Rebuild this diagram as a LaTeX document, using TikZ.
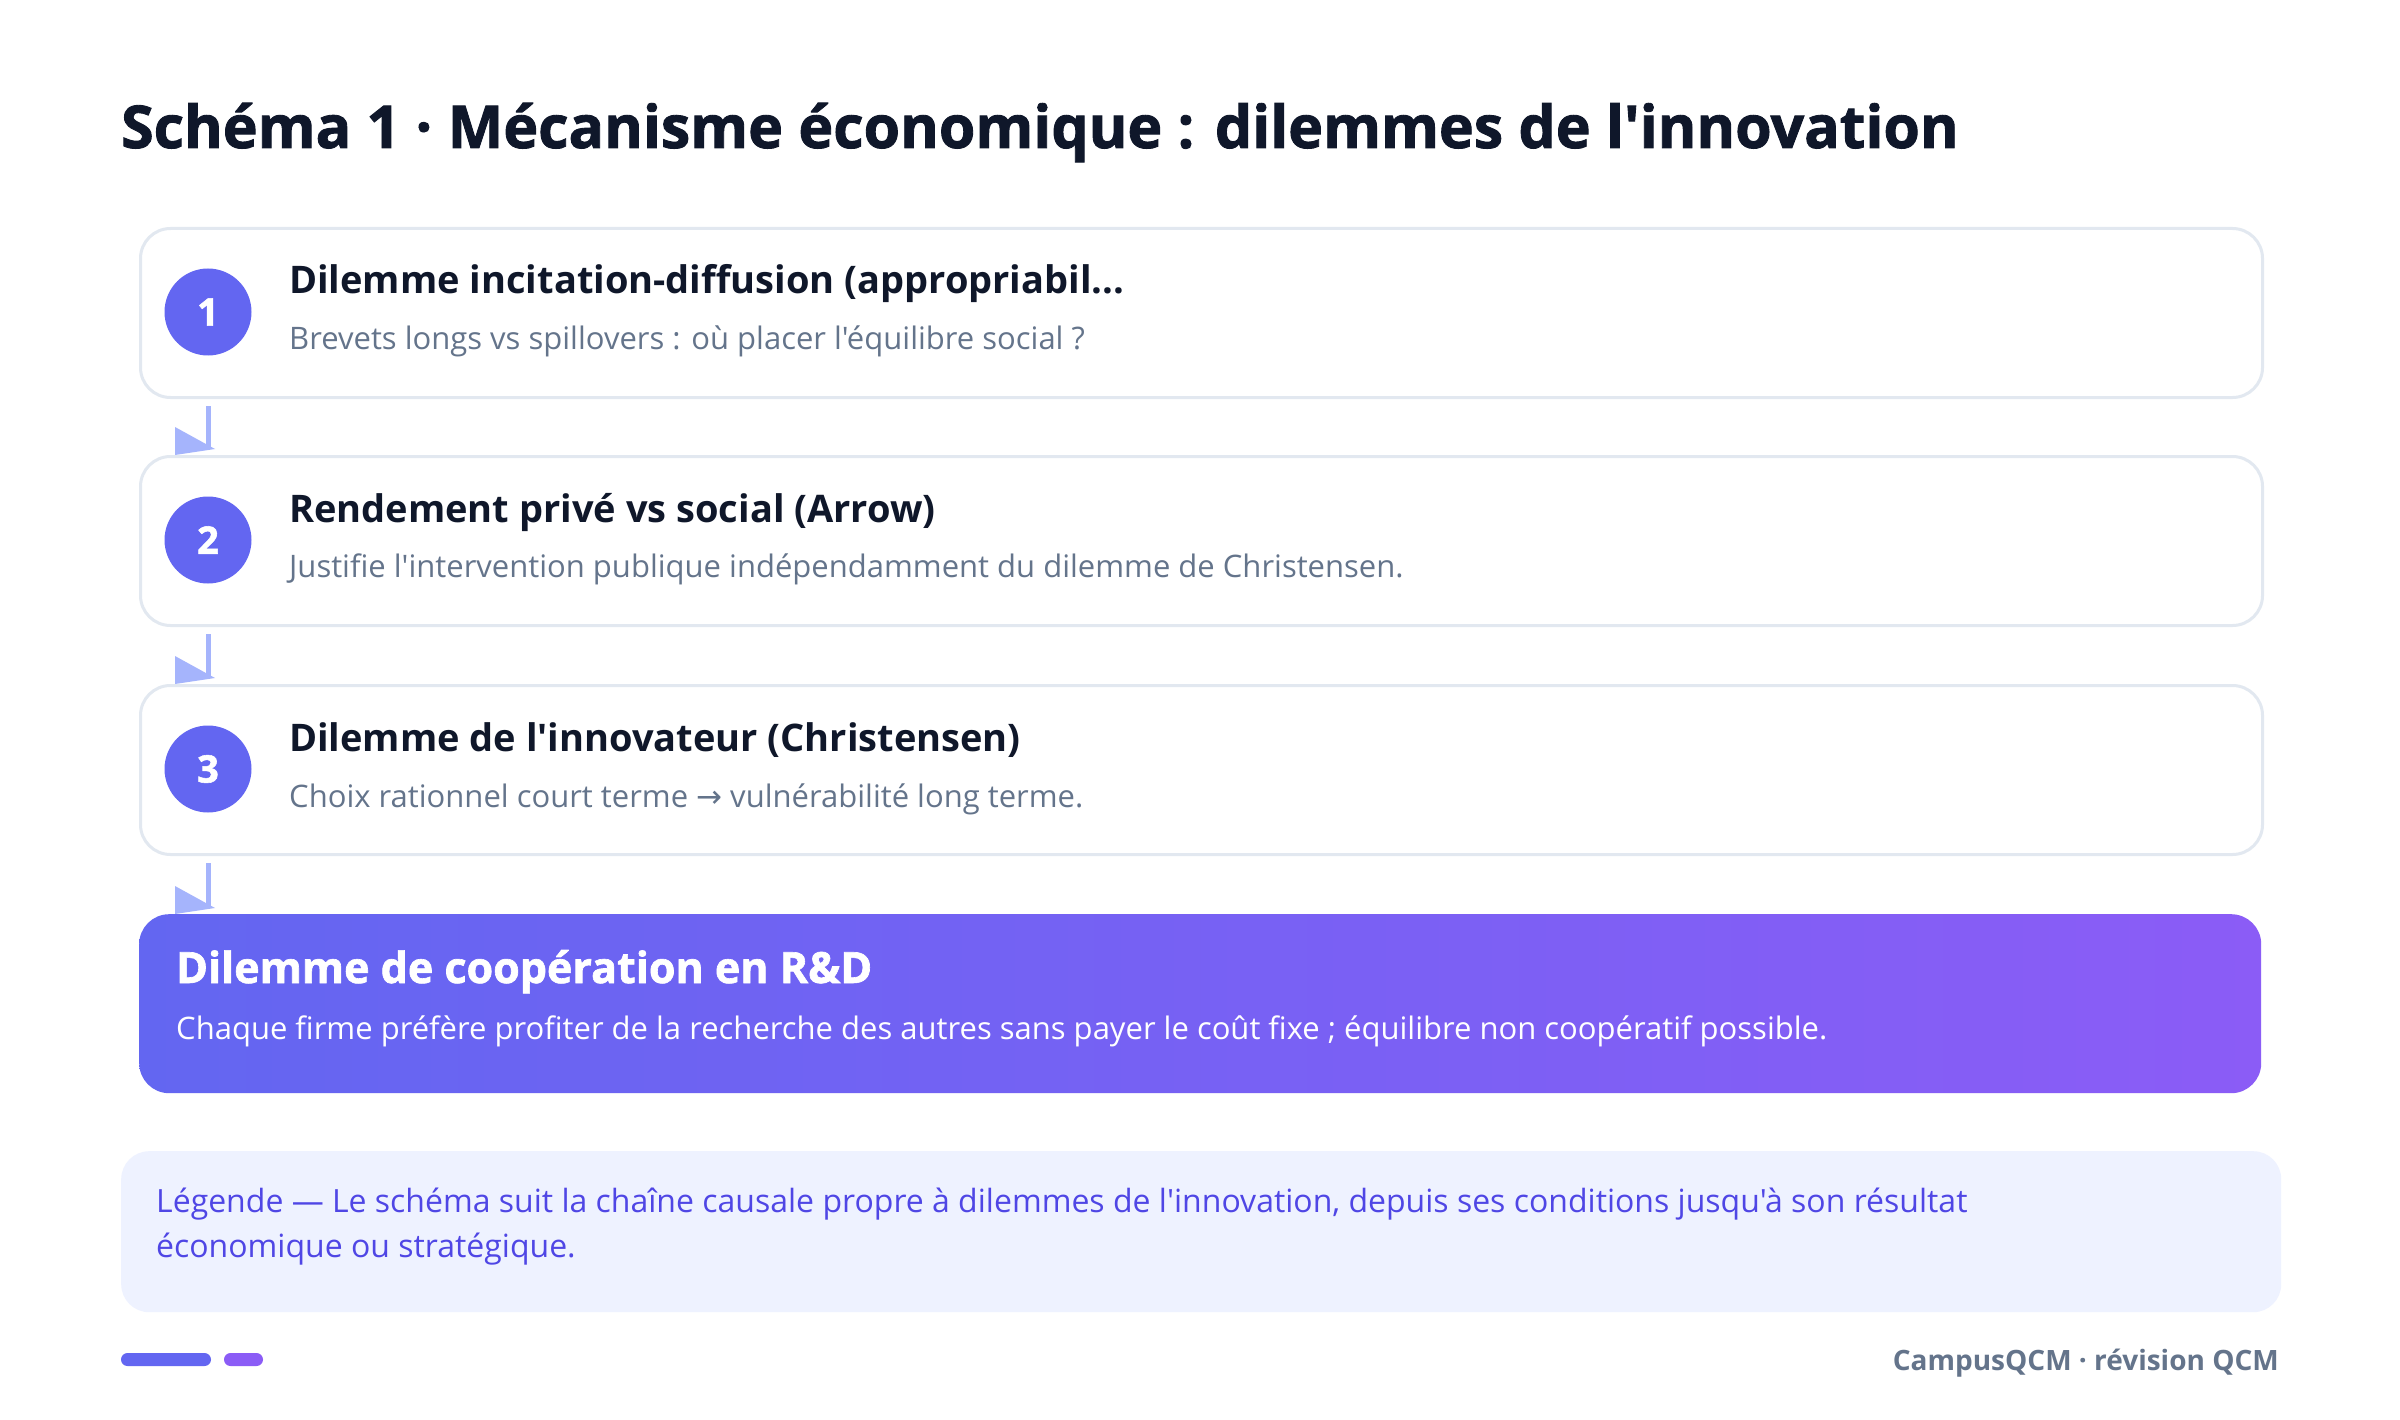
\documentclass[tikz,border=0pt]{standalone}
\usepackage{fontspec}
\setmainfont{Open Sans}[Ligatures=TeXOff]
\newfontfamily\heavy{Open Sans}[Ligatures=TeXOff, BoldFeatures={FakeBold=1.5}]
\newfontfamily\symf{DejaVu Sans}
\usetikzlibrary{calc}
\definecolor{cInk}{HTML}{0F172A}
\definecolor{cSub}{HTML}{64748B}
\definecolor{cBorder}{HTML}{E2E8F0}
\definecolor{cIndigo}{HTML}{6366F1}
\definecolor{cViolet}{HTML}{8B5CF6}
\definecolor{cArrow}{HTML}{A5B4FC}
\definecolor{cLegBg}{HTML}{EEF2FF}
\definecolor{cLegTx}{HTML}{4F46E5}
\begin{document}
\begin{tikzpicture}[x=1pt,y=-1pt,
  stepbox/.style={draw=cBorder, line width=3pt, fill=white, rounded corners=30pt,
    minimum width=2122pt, minimum height=169pt, anchor=north west, inner sep=0pt},
  numdot/.style={circle, fill=cIndigo, minimum size=87pt, inner sep=0pt, text=white,
    font=\fontsize{38pt}{44pt}\heavy\bfseries},
  steptitle/.style={anchor=base west, inner sep=0pt, text=cInk,
    font=\fontsize{38pt}{45pt}\selectfont\bfseries},
  stepsub/.style={anchor=base west, inner sep=0pt, text=cSub,
    font=\fontsize{31pt}{37pt}\selectfont},
  arrowline/.style={draw=cArrow, line width=5pt},
  arrowtip/.style={fill=cArrow},
]
\useasboundingbox (0,0) rectangle (2400,1420);
\fill[white] (0,0) rectangle (2400,1420);

% title
\node[anchor=base west, inner sep=0pt, text=cInk, font=\fontsize{59pt}{69pt}\heavy\bfseries]
  (title) at (121,148) {Schéma 1 · Mécanisme économique : dilemmes de l'innovation};

% step boxes
\node[stepbox] (box1) at (139,227) {};
\node[stepbox] (box2) at (139,455) {};
\node[stepbox] (box3) at (139,684) {};

\node[numdot] (num1) at (208,312) {1};
\node[numdot] (num2) at (208,540) {2};
\node[numdot] (num3) at (208,769) {3};

\node[steptitle] (t1) at (289,294) {Dilemme incitation-diffusion (appropriabil...};
\node[stepsub] (s1) at (289,349) {Brevets longs vs spillovers : où placer l'équilibre social ?};
\node[steptitle] (t2) at (289,522) {Rendement privé vs social (Arrow)};
\node[stepsub] (s2) at (289,577) {Justifie l'intervention publique indépendamment du dilemme de Christensen.};
\node[steptitle] (t3) at (289,751) {Dilemme de l'innovateur (Christensen)};
\node[stepsub] (s3) at (289,807) {Choix rationnel court terme {\symf →} vulnérabilité long terme.};

% final box
\node[anchor=north west, rounded corners=30pt, minimum width=2122pt, minimum height=179pt,
  inner sep=0pt, left color=cIndigo, right color=cViolet, draw=none] (final) at (139,914) {};
\node[anchor=base west, inner sep=0pt, text=white, font=\fontsize{43pt}{51pt}\heavy\bfseries]
  (ft) at (176,983) {Dilemme de coopération en R\&D};
\node[anchor=base west, inner sep=0pt, text=white, font=\fontsize{31pt}{37pt}\selectfont]
  (fs) at (176,1039) {Chaque firme préfère profiter de la recherche des autres sans payer le coût fixe ; équilibre non coopératif possible.};

% connectors
\foreach \a/\b in {box1/box2, box2/box3, box3/final}{
  \draw[arrowline] ($(\a.south -| num1.center)+(0,7)$) -- ($(\b.north -| num1.center)+(0,-8)$);
  \fill[arrowtip] ($(\b.north -| num1.center)+(-33,-28)$) -- ($(\b.north -| num1.center)+(-33,0)$)
     -- ($(\b.north -| num1.center)+(7,-6)$) -- cycle;
}

% legend
\node[anchor=north west, fill=cLegBg, rounded corners=28pt, minimum width=2160pt,
  minimum height=161pt, inner sep=0pt] (legend) at (121,1151) {};
\node[anchor=base west, inner sep=0pt, text=cLegTx, align=left,
  font=\fontsize{32pt}{45pt}\selectfont] (legtext) at (156,1257)
  {Légende — Le schéma suit la chaîne causale propre à dilemmes de l'innovation, depuis ses conditions jusqu'à son résultat\\ économique ou stratégique.};

% footer
\fill[cIndigo, rounded corners=6.5pt] (121,1353) rectangle (211,1366);
\fill[cViolet, rounded corners=6.5pt] (224,1353) rectangle (263,1366);
\node[anchor=base east, inner sep=0pt, text=cSub, font=\fontsize{28pt}{33pt}\selectfont\bfseries]
  (foot) at (2279,1370) {CampusQCM · révision QCM};
\end{tikzpicture}
\end{document}
